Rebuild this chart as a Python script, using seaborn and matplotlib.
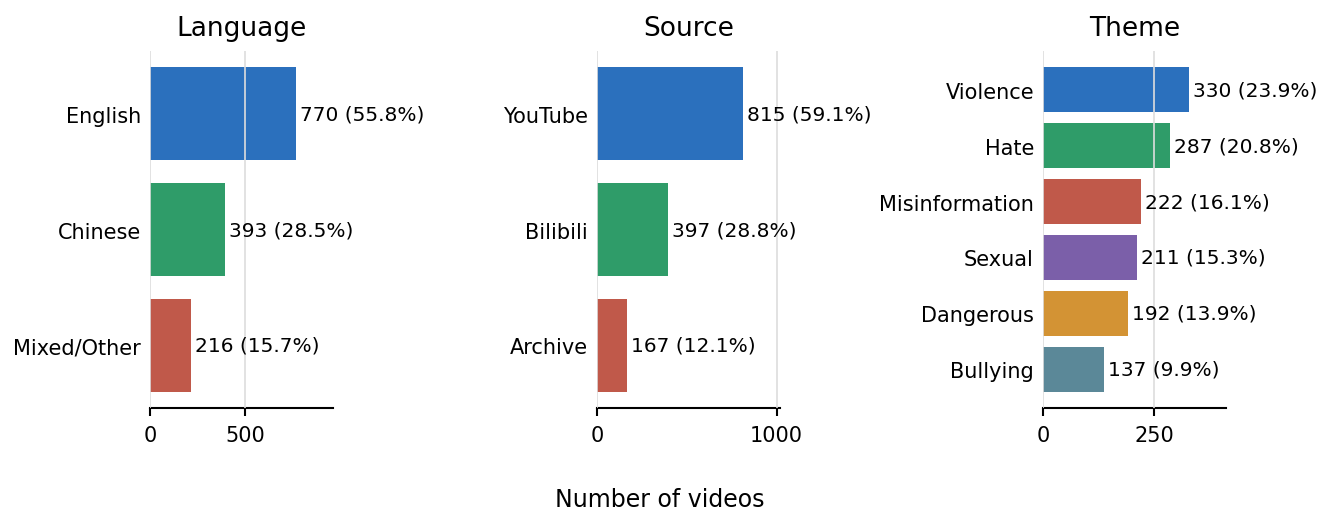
import numpy as np
import pandas as pd
import matplotlib
matplotlib.use("Agg")
import matplotlib.pyplot as plt
import seaborn as sns

# data
language_cats = ["English", "Chinese", "Mixed/Other"]
language_counts = [770, 393, 216]
language_pcts = [55.8, 28.5, 15.7]

source_cats = ["YouTube", "Bilibili", "Archive"]
source_counts = [815, 397, 167]
source_pcts = [59.1, 28.8, 12.1]

theme_cats = ["Violence", "Hate", "Misinformation", "Sexual", "Dangerous", "Bullying"]
theme_counts = [330, 287, 222, 211, 192, 137]
theme_pcts = [23.9, 20.8, 16.1, 15.3, 13.9, 9.9]

colors = ["#2b70bd", "#2f9c69", "#c0594a", "#7b5fa9", "#d39334", "#5b8898"]

sns.set_style("white")
plt.rcParams["font.family"] = ["DejaVu Sans"]
plt.rcParams["text.color"] = "black"
plt.rcParams["xtick.color"] = "black"
plt.rcParams["ytick.color"] = "black"
plt.rcParams["axes.labelcolor"] = "black"

fig = plt.figure(figsize=(13.19, 5.10), dpi=100)
lefts = [150 / 1319, 597 / 1319, 1043 / 1319]
w = 183 / 1319
b = 1 - 409 / 510
h = (409 - 52) / 510

panels = [
    ("Language", language_cats, language_counts, language_pcts, 500),
    ("Source", source_cats, source_counts, source_pcts, 1000),
    ("Theme", theme_cats, theme_counts, theme_pcts, 250),
]

for left, (title, cats, counts, pcts, step) in zip(lefts, panels):
    ax = fig.add_axes([left, b, w, h])
    df = pd.DataFrame({"cat": cats, "n": counts})
    sns.barplot(data=df, y="cat", x="n", hue="cat", palette=colors[:len(cats)],
                legend=False, width=0.8, saturation=1, linewidth=0, ax=ax)
    n = len(cats)
    pad = 0.05 * (n - 1 + 0.8)
    ax.set_ylim(n - 1 + 0.4 + pad, -0.4 - pad)
    xmax = max(counts) * 1.25
    ax.set_xlim(0, xmax)
    ax.xaxis.set_major_locator(matplotlib.ticker.MultipleLocator(step))
    labels = [f"{c} ({p:.1f}%)" for c, p in zip(counts, pcts)]
    allbars = [p for cont in ax.containers for p in cont]
    for bar in allbars:
        i = int(round(bar.get_y() + bar.get_height() / 2))
        ax.text(bar.get_width() + 4 * xmax / 183, i, labels[i],
                va="center", ha="left", fontsize=14.5)
    ax.grid(axis="x", color="#dddddd", linewidth=1.2)
    ax.set_axisbelow(False)
    for s in ["top", "right", "left"]:
        ax.spines[s].set_visible(False)
    ax.spines["bottom"].set_linewidth(1.5)
    ax.spines["bottom"].set_color("black")
    ax.tick_params(axis="x", length=6, width=1.5, labelsize=15, bottom=True, pad=6.5)
    ax.tick_params(axis="y", length=0, labelsize=15, pad=6.5)
    ax.set_xlabel("")
    ax.set_ylabel("")
    ax.set_title(title, fontsize=19, pad=11.5)

fig.text(0.5, 1 - 500 / 510, "Number of videos", ha="center", va="center", fontsize=17)

fig.savefig("out.png", dpi=100)
